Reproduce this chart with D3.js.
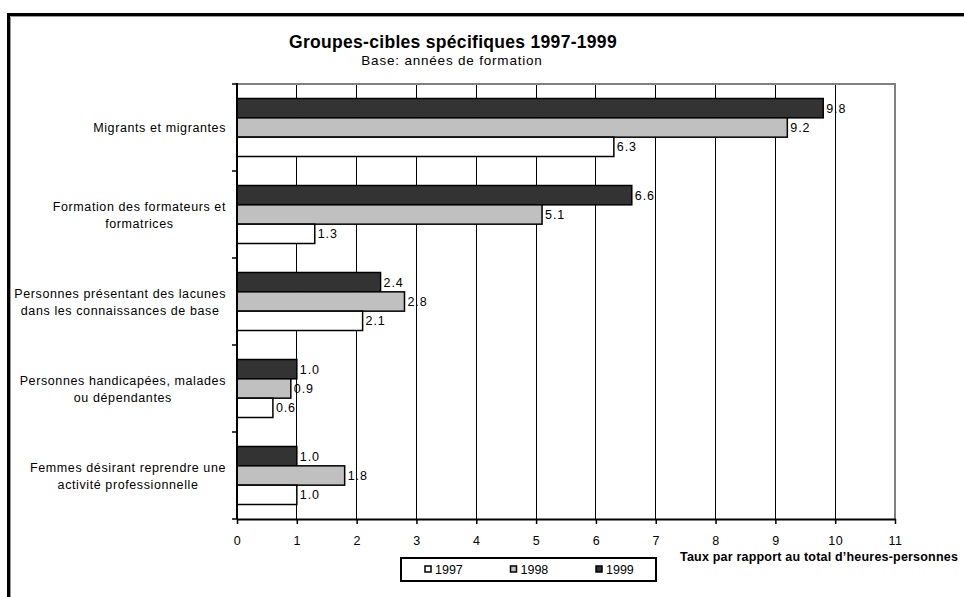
<!DOCTYPE html>
<html><head><meta charset="utf-8">
<script src="https://cdn.jsdelivr.net/npm/d3@7"></script>
<style>html,body{margin:0;padding:0;background:#fff;overflow:hidden}</style>
</head><body>
<script>
const categories = ["Migrants et migrantes", "Formation des formateurs et formatrices", "Personnes présentant des lacunes dans les connaissances de base", "Personnes handicapées, malades ou dépendantes", "Femmes désirant reprendre une activité professionnelle"];
const categoryLines = [["Migrants et migrantes"], ["Formation des formateurs et", "formatrices"], ["Personnes présentant des lacunes", "dans les connaissances de base"], ["Personnes handicapées, malades", "ou dépendantes"], ["Femmes désirant reprendre une", "activité professionnelle"]];
const seriesNames = ["1999", "1998", "1997"];
const v1999 = [9.8, 6.6, 2.4, 1.0, 1.0];
const v1998 = [9.2, 5.1, 2.8, 0.9, 1.8];
const v1997 = [6.3, 1.3, 2.1, 0.6, 1.0];
const xTicks = [0,1,2,3,4,5,6,7,8,9,10,11];
const legendOrder = ["1997", "1998", "1999"];
const title = "Groupes-cibles spécifiques 1997-1999";
const subtitle = "Base: années de formation";
const xTitle = "Taux par rapport au total d\u2019heures-personnes";

const colors = {"1999": "#333333", "1998": "#c0c0c0", "1997": "#ffffff"};
const seriesValues = {"1999": v1999, "1998": v1998, "1997": v1997};
const font = "'Liberation Sans', Arial, sans-serif";

const W = 964, H = 597;
const svg = d3.select("body").append("svg").attr("width", W).attr("height", H)
  .style("font-family", font);

// outer frame
svg.append("rect").attr("x", 8.5).attr("y", 14.5).attr("width", 1100).attr("height", 800)
  .attr("fill", "none").attr("stroke", "#000").attr("stroke-width", 3);
svg.append("path").attr("d", "M10.5,1000V16.5H1100").attr("fill", "none")
  .attr("stroke", "#999").attr("stroke-width", 1);

const plot = {l: 237, r: 895, t: 84, b: 519};
const x = d3.scaleLinear().domain([0, 11]).range([plot.l, plot.r]);
const y = d3.scaleBand().domain(categories).range([plot.t, plot.b]).paddingInner(0).paddingOuter(0);
const yInner = d3.scaleBand().domain(seriesNames).range([0, y.bandwidth()]).paddingInner(0).paddingOuter(0.75);

// title
svg.append("text").attr("x", 453).attr("y", 48).attr("text-anchor", "middle")
  .attr("font-size", 17.5).attr("letter-spacing", 0.3).attr("font-weight", "bold").text(title);
svg.append("text").attr("x", 452).attr("y", 65).attr("text-anchor", "middle")
  .attr("font-size", 13.5).attr("letter-spacing", 0.8).text(subtitle);

// gridlines
svg.append("g").attr("shape-rendering", "crispEdges").selectAll("line")
  .data(xTicks.filter(d => d > 0 && d < 11)).join("line")
  .attr("x1", d => x(d)).attr("x2", d => x(d)).attr("y1", plot.t).attr("y2", plot.b)
  .attr("stroke", "#000").attr("stroke-width", 1);

// plot border (gray top and right)
svg.append("path").attr("d", `M${plot.l},${plot.t}H${plot.r}V${plot.b}`)
  .attr("fill", "none").attr("stroke", "#808080").attr("stroke-width", 2);

// bars
const groups = svg.append("g").selectAll("g").data(categories).join("g")
  .attr("transform", d => `translate(0,${y(d)})`);
groups.each(function(cat, i) {
  const g = d3.select(this);
  seriesNames.forEach(s => {
    const v = seriesValues[s][i];
    g.append("rect").attr("x", x(0)).attr("y", yInner(s))
      .attr("width", x(v) - x(0)).attr("height", yInner.bandwidth())
      .attr("fill", colors[s]).attr("stroke", "#000").attr("stroke-width", 1.5);
    g.append("text").attr("x", x(v) + 3).attr("y", yInner(s) + yInner.bandwidth() / 2 + 4.5)
      .attr("font-size", 12.5).attr("letter-spacing", 0.9).text(v.toFixed(1));
  });
});

// x axis
const xAxis = svg.append("g").attr("transform", `translate(0,${plot.b})`)
  .call(d3.axisBottom(x).tickValues(xTicks).tickSize(5).tickSizeOuter(0).tickPadding(12));
xAxis.select(".domain").attr("stroke", "#000").attr("stroke-width", 2);
xAxis.selectAll(".tick line").attr("stroke", "#000").attr("stroke-width", 1.5);
xAxis.selectAll(".tick text").attr("font-size", 12.5).attr("letter-spacing", 0.5)
  .attr("font-family", font).attr("fill", "#000");

// y axis line with boundary ticks
svg.append("line").attr("x1", plot.l).attr("x2", plot.l).attr("y1", plot.t - 1).attr("y2", plot.b)
  .attr("stroke", "#000").attr("stroke-width", 2);
const bounds = categories.map(c => y(c)).concat([plot.b]);
svg.append("g").selectAll("line").data(bounds).join("line")
  .attr("x1", plot.l - 5).attr("x2", plot.l).attr("y1", d => d).attr("y2", d => d)
  .attr("stroke", "#000").attr("stroke-width", 1.5);

// category labels: each label box right-aligned near the axis, lines centred in the box
const labelRight = 226;
categories.forEach((c, i) => {
  const lines = categoryLines[i];
  const cy = y(c) + y.bandwidth() / 2;
  const lh = 17;
  const t = svg.append("text").attr("text-anchor", "middle").attr("font-size", 12.5)
    .attr("letter-spacing", 0.6);
  const spans = lines.map((ln, j) => t.append("tspan")
    .attr("y", cy + (j - (lines.length - 1) / 2) * lh + 4.5).text(ln));
  const wmax = d3.max(spans, sp => sp.node().getComputedTextLength());
  spans.forEach(sp => sp.attr("x", labelRight - wmax / 2));
});

// x axis title
svg.append("text").attr("x", 680).attr("y", 561).attr("font-size", 12.5).attr("font-weight", "bold")
  .attr("letter-spacing", 0.2).text(xTitle);

// legend
const lg = svg.append("g");
lg.append("rect").attr("x", 401).attr("y", 558).attr("width", 255).attr("height", 23)
  .attr("fill", "#fff").attr("stroke", "#000").attr("stroke-width", 2);
const lx = d3.scalePoint().domain(legendOrder).range([425, 596]);
legendOrder.forEach(s => {
  lg.append("rect").attr("x", lx(s)).attr("y", 566).attr("width", 6).attr("height", 6)
    .attr("fill", colors[s]).attr("stroke", "#000").attr("stroke-width", 1.5);
  lg.append("text").attr("x", lx(s) + 10).attr("y", 574).attr("font-size", 12.5).text(s);
});
</script>
</body></html>
